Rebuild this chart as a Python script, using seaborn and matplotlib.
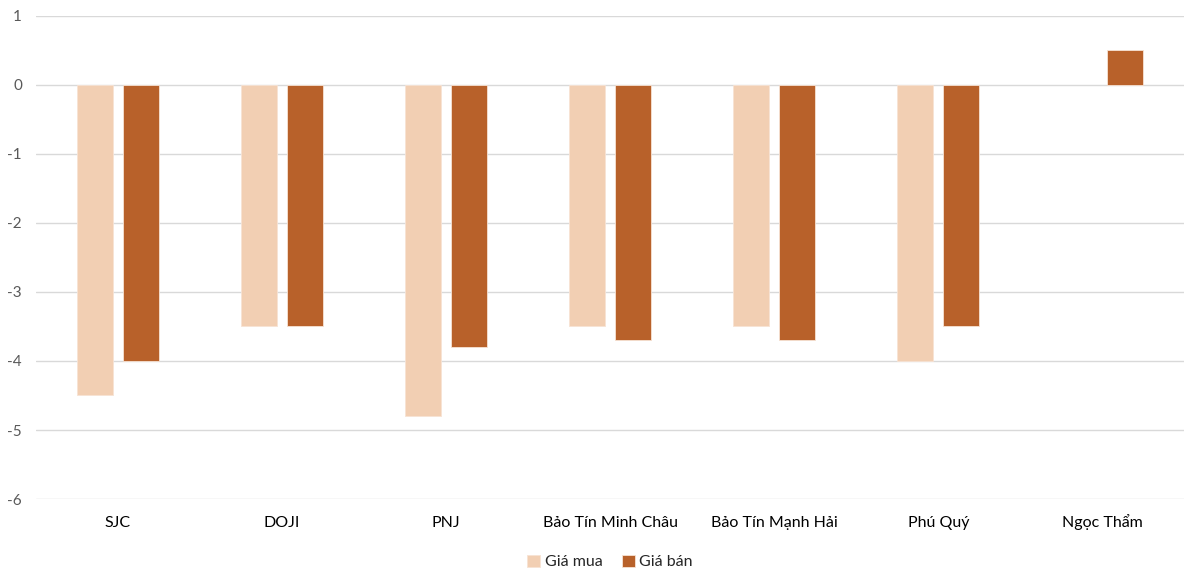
import numpy as np
import pandas as pd
import matplotlib
matplotlib.use("Agg")
import matplotlib.pyplot as plt
import seaborn as sns

# --- Data
brands = ["SJC", "DOJI", "PNJ", "Bảo Tín Minh Châu", "Bảo Tín Mạnh Hải", "Phú Quý", "Ngọc Thẩm"]
gia_mua = [-4.5, -3.5, -4.8, -3.5, -3.5, -4.0, np.nan]
gia_ban = [-4.0, -3.5, -3.8, -3.7, -3.7, -3.5, 0.5]
series = ["Giá mua", "Giá bán"]
colors = ["#F2CFB3", "#B8612A"]

df = pd.DataFrame({"brand": brands, "Giá mua": gia_mua, "Giá bán": gia_ban})
long = df.melt(id_vars="brand", var_name="series", value_name="value").dropna()

sns.set_style("white")
plt.rcParams["font.family"] = ["Lato", "DejaVu Sans"]
plt.rcParams["axes.unicode_minus"] = False

fig = plt.figure(figsize=(12, 5.83), dpi=100)
ax = fig.add_axes([0.03, 0.144, 0.957, 0.829])

sns.barplot(data=long, x="brand", y="value", hue="series", order=brands,
            hue_order=series, palette=colors, saturation=1, width=0.56, gap=0.214,
            edgecolor="#F7E3D4", linewidth=0.6, ax=ax)

ax.set_ylim(-6, 1)
ax.set_yticks(range(-6, 2))
ax.yaxis.grid(True, color="#D9D9D9", linewidth=1)
ax.set_axisbelow(True)
for s in ax.spines.values():
    s.set_visible(False)
ax.set_xlabel("")
ax.set_ylabel("")
ax.tick_params(axis="both", length=0, labelsize=11, labelcolor="#595959")
ax.tick_params(axis="x", pad=20, labelsize=11.5, labelcolor="#000000")
ax.tick_params(axis="y", pad=10)
# align category labels on a common baseline (diacritics shift "top" alignment)
for lbl in ax.get_xticklabels():
    lbl.set_verticalalignment("baseline")

ax.legend(loc="upper center", bbox_to_anchor=(0.5, -0.085), ncol=2, frameon=False,
          fontsize=11.5, handlelength=0.8, handleheight=0.8, handletextpad=0.3,
          columnspacing=1.2)

fig.savefig("out.png", dpi=100)
